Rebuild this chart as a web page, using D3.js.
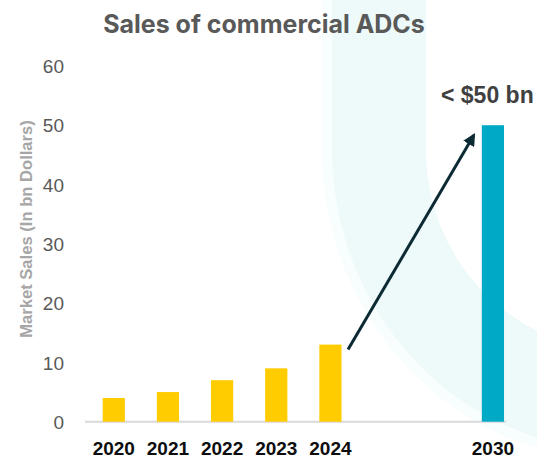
<!DOCTYPE html>
<html>
<head>
<meta charset="utf-8">
<script src="https://cdn.jsdelivr.net/npm/d3@7/dist/d3.min.js"></script>
<style>
  html, body { margin: 0; padding: 0; background: #ffffff; }
  svg { display: block; }
</style>
</head>
<body>
<script>
// ---- data ----
const categories = ["2020", "2021", "2022", "2023", "2024", "gap1", "gap2", "2030"];
const categoryLabels = ["2020", "2021", "2022", "2023", "2024", "", "", "2030"];
const salesValues = [4, 5, 7, 9, 13, null, null, 50];
const yTicks = [0, 10, 20, 30, 40, 50, 60];
const titleText = "Sales of commercial ADCs";
const yAxisTitle = "Market Sales (In bn Dollars)";
const annotationText = "< $50 bn";

const W = 537, H = 459;
const svg = d3.select("body").append("svg").attr("width", W).attr("height", H);

// background decorative band
const bg = svg.append("g");
function bandPath(xLeftOuter, cy, cx, bOuter, xLeftInner, bInner) {
  const aO = cx - xLeftOuter, aI = cx - xLeftInner;
  return `M${xLeftOuter},-20 L${xLeftOuter},${cy} A${aO},${bOuter} 0 0 0 ${cx},${cy + bOuter} L${cx},${cy + bInner} A${aI},${bInner} 0 0 1 ${xLeftInner},${cy} L${xLeftInner},-20 Z`;
}
bg.append("path").attr("d", bandPath(322, 150, 620, 310, 332, 300)).attr("fill", "#f8fdfd");
bg.append("path").attr("d", bandPath(332, 150, 620, 300, 426, 200)).attr("fill", "#eef9fa");

// scales
const y = d3.scaleLinear().domain([0, 60]).range([421.7, 65.9]);
const x = d3.scaleBand().domain(categories).range([86.7, 520]).paddingInner(0.59).paddingOuter(0.295);

// baseline
svg.append("line")
  .attr("x1", 85).attr("x2", 506)
  .attr("y1", y(0)).attr("y2", y(0))
  .attr("stroke", "#d9d9d9").attr("stroke-width", 2);

// y tick labels
const yAxis = d3.axisLeft(y).tickValues(yTicks).tickSize(0).tickPadding(0);
const gy = svg.append("g").attr("transform", "translate(64,0)").call(yAxis);
gy.select(".domain").remove();
gy.selectAll("text")
  .attr("font-family", "Liberation Sans, Arial, sans-serif")
  .attr("font-size", 19)
  .attr("fill", "#595959")
  .attr("dy", "0.35em");

// x labels
const xAxis = d3.axisBottom(x).tickSize(0).tickPadding(0)
  .tickFormat((d, i) => categoryLabels[i]);
const gx = svg.append("g").attr("transform", "translate(0,455)").call(xAxis);
gx.select(".domain").remove();
gx.selectAll("text")
  .attr("dy", 0)
  .attr("font-family", "Liberation Sans, Arial, sans-serif")
  .attr("font-weight", "bold")
  .attr("font-size", 19)
  .attr("fill", "#0d0d0d");

// bars
const barData = categories.map((c, i) => ({ c, v: salesValues[i] })).filter(d => d.v != null);
svg.append("g").selectAll("rect").data(barData).join("rect")
  .attr("x", d => x(d.c))
  .attr("width", x.bandwidth())
  .attr("y", d => y(d.v))
  .attr("height", d => y(0) - y(d.v))
  .attr("fill", d => d.c === "2030" ? "#00aac7" : "#ffcc00");

// title
svg.append("text")
  .attr("x", 264).attr("y", 33)
  .attr("text-anchor", "middle")
  .attr("font-family", "Inter, sans-serif")
  .attr("font-weight", "bold")
  .attr("font-size", 25)
  .attr("fill", "#595959")
  .text(titleText);

// y axis title
svg.append("text")
  .attr("transform", `translate(31.5,${229}) rotate(-90)`)
  .attr("text-anchor", "middle")
  .attr("font-family", "Liberation Sans, Arial, sans-serif")
  .attr("font-weight", "bold")
  .attr("font-size", 16.6)
  .attr("fill", "#a6a6a6")
  .text(yAxisTitle);

// annotation label
svg.append("text")
  .attr("x", 441).attr("y", 103)
  .attr("font-family", "Liberation Sans, Arial, sans-serif")
  .attr("font-weight", "bold")
  .attr("font-size", 23)
  .attr("fill", "#404040")
  .text(annotationText);

// arrow
const defs = svg.append("defs");
defs.append("marker").attr("id", "ah")
  .attr("viewBox", "0 0 10 10").attr("refX", 8).attr("refY", 5)
  .attr("markerWidth", 4.2).attr("markerHeight", 4.2)
  .attr("orient", "auto")
  .append("path").attr("d", "M0,0 L10,5 L0,10 Z").attr("fill", "#0b2a33");
const x24 = x("2024") + x.bandwidth(), x30 = x("2030");
svg.append("line")
  .attr("x1", x24 + 6.5).attr("y1", y(13) + 5)
  .attr("x2", x30 - 8).attr("y2", y(50) + 10)
  .attr("stroke", "#0b2a33").attr("stroke-width", 3)
  .attr("marker-end", "url(#ah)");
</script>
</body>
</html>
